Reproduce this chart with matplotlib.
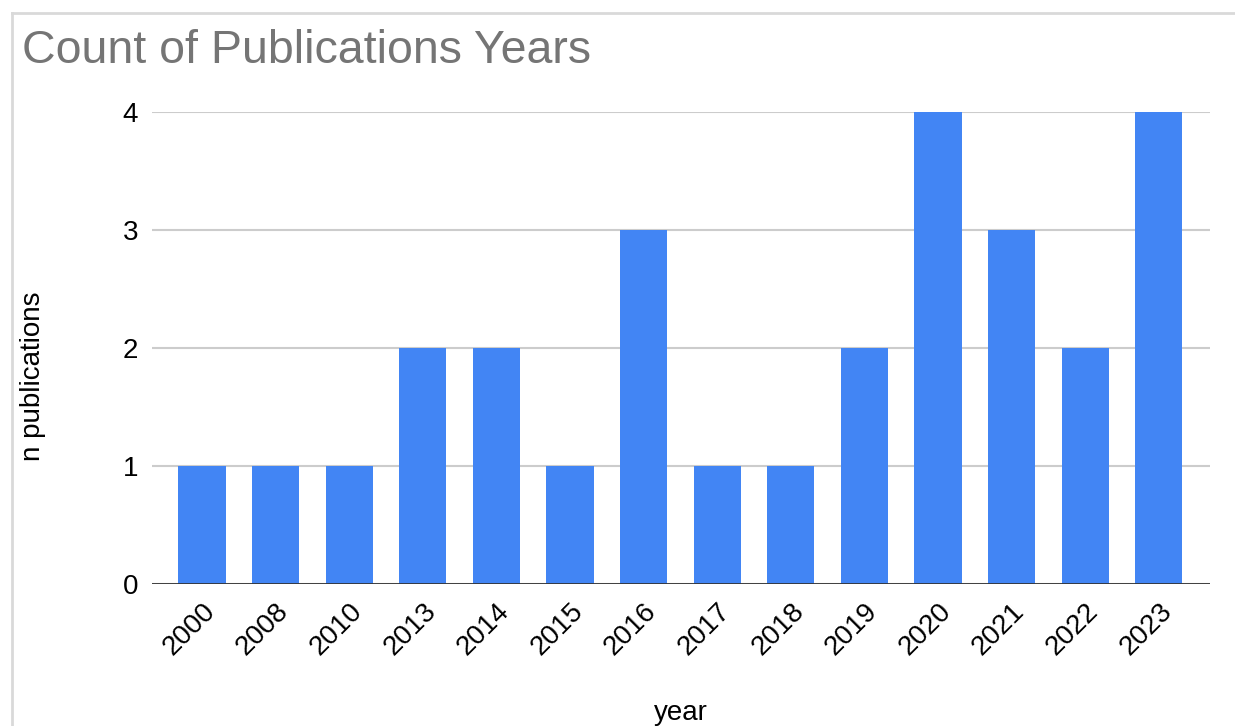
import matplotlib.pyplot as plt
from matplotlib.lines import Line2D

years = ['2000', '2008', '2010', '2013', '2014', '2015', '2016',
         '2017', '2018', '2019', '2020', '2021', '2022', '2023']
n_pubs = [1, 1, 1, 2, 2, 1, 3, 1, 1, 2, 4, 3, 2, 4]

plt.rcParams['font.family'] = ['Liberation Sans', 'DejaVu Sans']

fig = plt.figure(figsize=(12.35, 7.26), dpi=100)
ax = fig.add_axes([0.123, 0.1956, 0.857, 0.6501])

x = range(len(years))
ax.bar(x, n_pubs, width=0.64, color='#4285f4', zorder=3)

ax.set_xlim(-0.68, len(years) - 0.3)
ax.set_ylim(0, 4)
ax.set_yticks([0, 1, 2, 3, 4])
ax.set_xticks(list(x))
ax.set_xticklabels(years, rotation=45, ha='right', rotation_mode='anchor')
ax.tick_params(axis='both', length=0, labelsize=20)
ax.tick_params(axis='y', pad=10)
ax.tick_params(axis='x', pad=10)

# gridlines
ax.grid(axis='y', color='#cccccc', linewidth=1.5, zorder=0)
ax.axhline(0, color='#333333', linewidth=2, zorder=4)
for s in ax.spines.values():
    s.set_visible(False)

ax.set_xlabel('year', fontsize=20, labelpad=29)
ax.set_ylabel('n publications', fontsize=20)
ax.yaxis.set_label_coords(-0.1, 0.44)

fig.text(0.018, 0.93, 'Count of Publications Years', fontsize=33.5,
         color='#757575', va='center', ha='left')

# frame of the screenshot
fig.add_artist(Line2D([0.0097, 1.0], [0.982, 0.982], color='#d9d9d9', linewidth=2))
fig.add_artist(Line2D([0.0097, 0.0097], [0.0, 0.982], color='#d9d9d9', linewidth=2))

fig.savefig('out.png', dpi=100)
